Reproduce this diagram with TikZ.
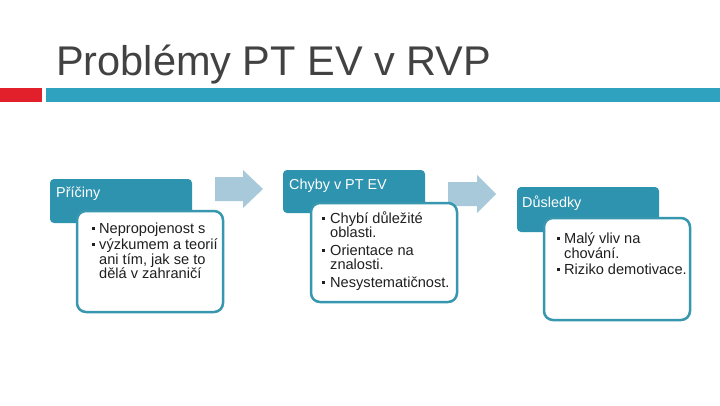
\documentclass[tikz,border=0pt]{standalone}
\usepackage{fontspec}
\setmainfont{Liberation Sans}
\definecolor{barteal}{HTML}{2FA2C0}
\definecolor{barred}{HTML}{E2202C}
\definecolor{hdr}{HTML}{2E93AE}
\definecolor{brd}{HTML}{3797AF}
\definecolor{arr}{HTML}{A8C9DA}
\definecolor{ttl}{HTML}{424242}
\begin{document}
\begin{tikzpicture}[x=1pt,y=-1pt,
  hdrbox/.style={fill=hdr, rounded corners=4pt},
  bodybox/.style={draw=brd, line width=2.5pt, fill=white, rounded corners=9pt},
  hdrtext/.style={anchor=base west, inner sep=0pt, text=white, font=\fontsize{14.4}{16}\selectfont},
  bodytext/.style={anchor=base west, inner sep=0pt, text=black!88, font=\fontsize{14.6}{16}\selectfont},
  flowarrow/.style={fill=arr}]
\useasboundingbox (0,0) rectangle (720,405);
\fill[white] (0,0) rectangle (720,405);
% title
\node[anchor=base west, inner sep=0pt, text=ttl, font=\fontsize{41.5}{48}\selectfont] (title) at (56,75) {Problémy PT EV v RVP};
\fill[barred] (0,88) rectangle (42,102);
\fill[barteal] (46,88) rectangle (720,102);
% arrows
\fill[flowarrow] (215,177) -- (243,177) -- (243,170) -- (263,189) -- (243,208) -- (243,201) -- (215,201) -- cycle;
\fill[flowarrow] (448,182) -- (477,182) -- (477,175) -- (496,194) -- (477,213) -- (477,206) -- (448,206) -- cycle;
% headers
\fill[hdrbox] (50,179) rectangle (192,223);
\fill[hdrbox] (283,170) rectangle (425,213);
\fill[hdrbox] (517,187) rectangle (659,232);
% bodies
\draw[bodybox] (77,211) rectangle (223,312);
\draw[bodybox] (311,203) rectangle (457,302);
\draw[bodybox] (544,218) rectangle (690,320);
% header texts
\node[hdrtext] (t1) at (56,197) {Příčiny};
\node[hdrtext] (t2) at (289,189) {Chyby v PT EV};
\node[hdrtext] (t3) at (522,207) {Důsledky};
% box 1
\node[bodytext] (b1a) at (92,233) {\rule[3.3pt]{3.2pt}{3.2pt}};
\node[bodytext] (l1a) at (99,233) {Nepropojenost s};
\node[bodytext] (b1b) at (92,249.5) {\rule[3.3pt]{3.2pt}{3.2pt}};
\node[bodytext] (l1b) at (99,249.5) {výzkumem a teorií};
\node[bodytext] (l1c) at (99,264) {ani tím, jak se to};
\node[bodytext] (l1d) at (99,278.5) {dělá v zahraničí};
% box 2
\node[bodytext] (b2a) at (322,223) {\rule[3.3pt]{3.2pt}{3.2pt}};
\node[bodytext] (l2a) at (330,223) {Chybí důležité};
\node[bodytext] (l2b) at (330,237.5) {oblasti.};
\node[bodytext] (b2c) at (322,255) {\rule[3.3pt]{3.2pt}{3.2pt}};
\node[bodytext] (l2c) at (330,255) {Orientace na};
\node[bodytext] (l2d) at (330,269.5) {znalosti.};
\node[bodytext] (b2e) at (322,287) {\rule[3.3pt]{3.2pt}{3.2pt}};
\node[bodytext] (l2e) at (330,287) {Nesystematičnost.};
% box 3
\node[bodytext] (b3a) at (557,243) {\rule[3.3pt]{3.2pt}{3.2pt}};
\node[bodytext] (l3a) at (564,243) {Malý vliv na};
\node[bodytext] (l3b) at (564,258) {chování.};
\node[bodytext] (b3c) at (557,274) {\rule[3.3pt]{3.2pt}{3.2pt}};
\node[bodytext] (l3c) at (564,274) {Riziko demotivace.};
\end{tikzpicture}
\end{document}
